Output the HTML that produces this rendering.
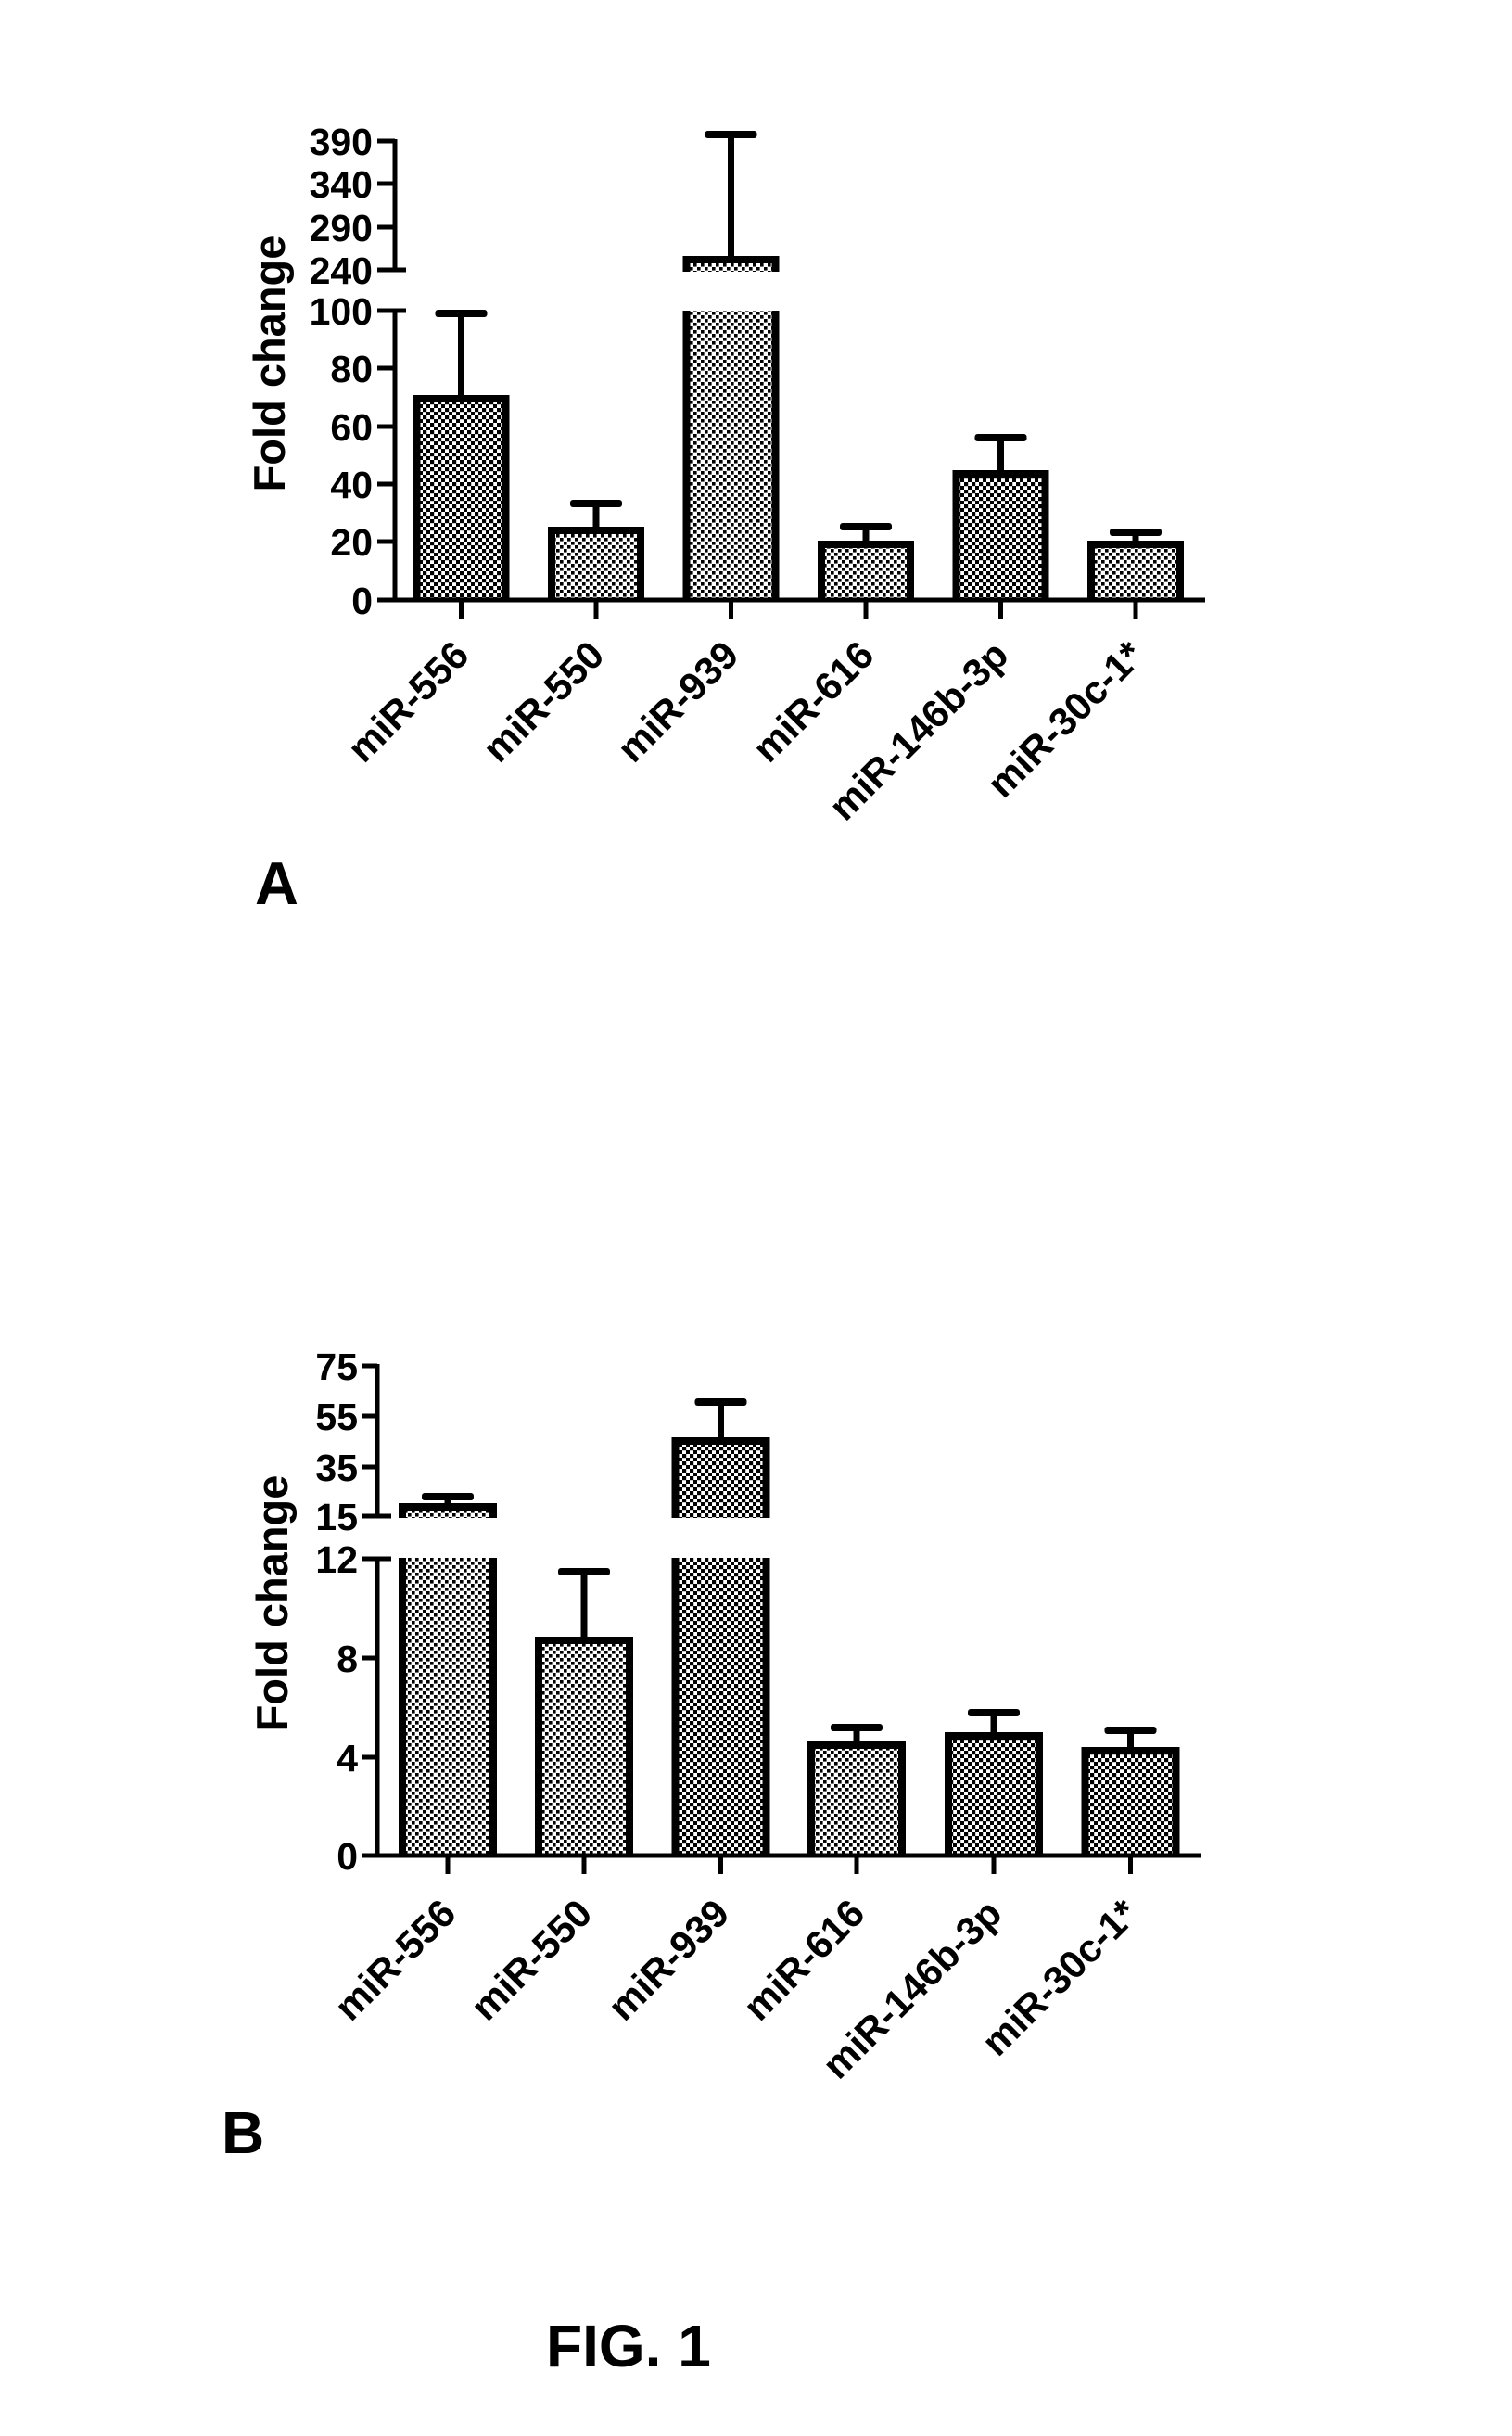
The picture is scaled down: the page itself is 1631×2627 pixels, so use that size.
<!DOCTYPE html>
<html>
<head>
<meta charset="utf-8">
<style>
  html, body { margin:0; padding:0; background:#fff; }
  svg { display:block; }
  text { font-family: "Liberation Sans", Arial, sans-serif; font-weight: bold; fill:#000; }
</style>
</head>
<body>
<svg width="1631" height="2627" viewBox="0 0 1631 2627" xmlns="http://www.w3.org/2000/svg">
  <defs>
    <pattern id="pl" width="8" height="8" patternUnits="userSpaceOnUse">
      <rect width="8" height="8" fill="#fff"/>
      <rect x="0" y="0" width="3.6" height="3.6" fill="#000"/>
      <rect x="4" y="4" width="3.6" height="3.6" fill="#000"/>
    </pattern>
    <pattern id="pd" width="8" height="8" patternUnits="userSpaceOnUse">
      <rect width="8" height="8" fill="#fff"/>
      <rect x="0" y="0" width="4.2" height="4.2" fill="#000"/>
      <rect x="4" y="4" width="4.2" height="4.2" fill="#000"/>
    </pattern>
  </defs>
  <rect width="1631" height="2627" fill="#fff"/>

  <!-- ================= CHART A ================= -->
  <!-- y axis label -->
  <text x="307" y="392" font-size="47" text-anchor="middle" transform="rotate(-90 307 392)">Fold change</text>

  <!-- bars A -->
  <!-- bar1 -->
  <rect x="445.5" y="426" width="104" height="221" fill="#000"/>
  <rect x="453.5" y="434" width="88" height="213" fill="url(#pd)"/>
  <!-- bar2 -->
  <rect x="591" y="568" width="104" height="79" fill="#000"/>
  <rect x="599" y="576" width="88" height="71" fill="url(#pl)"/>
  <!-- bar3 broken -->
  <rect x="736.5" y="276" width="104" height="17" fill="#000"/>
  <rect x="744.5" y="284" width="88" height="9" fill="url(#pl)"/>
  <rect x="736.5" y="335" width="104" height="312" fill="#000"/>
  <rect x="744.5" y="335" width="88" height="312" fill="url(#pl)"/>
  <!-- bar4 -->
  <rect x="882" y="583" width="104" height="64" fill="#000"/>
  <rect x="890" y="591" width="88" height="56" fill="url(#pl)"/>
  <!-- bar5 -->
  <rect x="1027.5" y="507" width="104" height="140" fill="#000"/>
  <rect x="1035.5" y="515" width="88" height="132" fill="url(#pd)"/>
  <!-- bar6 -->
  <rect x="1173" y="583" width="104" height="64" fill="#000"/>
  <rect x="1181" y="591" width="88" height="56" fill="url(#pl)"/>

  <!-- error bars A -->
  <rect x="494" y="338" width="7" height="90" fill="#000"/>
  <rect x="469.5" y="334" width="56" height="8" rx="3" fill="#000"/>
  <rect x="639.5" y="543" width="7" height="27" fill="#000"/>
  <rect x="615" y="539" width="56" height="8" rx="3" fill="#000"/>
  <rect x="785" y="145" width="7" height="133" fill="#000"/>
  <rect x="760.5" y="141" width="56" height="8" rx="3" fill="#000"/>
  <rect x="930.5" y="568" width="7" height="17" fill="#000"/>
  <rect x="906" y="564" width="56" height="8" rx="3" fill="#000"/>
  <rect x="1076" y="472" width="7" height="37" fill="#000"/>
  <rect x="1051.5" y="468" width="56" height="8" rx="3" fill="#000"/>
  <rect x="1221.5" y="574" width="7" height="11" fill="#000"/>
  <rect x="1197" y="570" width="56" height="8" rx="3" fill="#000"/>

  <!-- axes A -->
  <rect x="423.5" y="150" width="5" height="143.5" fill="#000"/>
  <rect x="423.5" y="333" width="5" height="316.5" fill="#000"/>
  <rect x="407" y="644.5" width="893" height="5" fill="#000"/>
  <!-- y ticks A -->
  <rect x="407" y="149.5" width="19" height="5" fill="#000"/>
  <rect x="407" y="195.5" width="19" height="5" fill="#000"/>
  <rect x="407" y="242.5" width="19" height="5" fill="#000"/>
  <rect x="407" y="288.5" width="31" height="5" fill="#000"/>
  <rect x="407" y="332.5" width="31" height="5" fill="#000"/>
  <rect x="407" y="394.5" width="19" height="5" fill="#000"/>
  <rect x="407" y="457.5" width="19" height="5" fill="#000"/>
  <rect x="407" y="519.5" width="19" height="5" fill="#000"/>
  <rect x="407" y="581.5" width="19" height="5" fill="#000"/>
  <!-- x ticks A -->
  <rect x="495" y="647" width="5" height="20" fill="#000"/>
  <rect x="640.5" y="647" width="5" height="20" fill="#000"/>
  <rect x="786" y="647" width="5" height="20" fill="#000"/>
  <rect x="931.5" y="647" width="5" height="20" fill="#000"/>
  <rect x="1077" y="647" width="5" height="20" fill="#000"/>
  <rect x="1222.5" y="647" width="5" height="20" fill="#000"/>

  <!-- y tick labels A -->
  <g font-size="41" text-anchor="end">
    <text x="402" y="167">390</text>
    <text x="402" y="213">340</text>
    <text x="402" y="260">290</text>
    <text x="402" y="306">240</text>
    <text x="402" y="350">100</text>
    <text x="402" y="412">80</text>
    <text x="402" y="475">60</text>
    <text x="402" y="537">40</text>
    <text x="402" y="599">20</text>
    <text x="402" y="662">0</text>
  </g>

  <!-- x labels A -->
  <g font-size="42" text-anchor="end">
    <text x="508" y="709" transform="rotate(-45 508 709)">miR-556</text>
    <text x="654" y="709" transform="rotate(-45 654 709)">miR-550</text>
    <text x="799" y="709" transform="rotate(-45 799 709)">miR-939</text>
    <text x="945" y="709" transform="rotate(-45 945 709)">miR-616</text>
    <text x="1090" y="709" transform="rotate(-45 1090 709)">miR-146b-3p</text>
    <text x="1236" y="709" transform="rotate(-45 1236 709)">miR-30c-1*</text>
  </g>

  <text x="275" y="975" font-size="65">A</text>

  <!-- ================= CHART B ================= -->
  <text x="310" y="1729" font-size="47" text-anchor="middle" transform="rotate(-90 310 1729)">Fold change</text>

  <!-- bars B -->
  <!-- bar1 broken -->
  <rect x="430" y="1621" width="106" height="16" fill="#000"/>
  <rect x="438" y="1629" width="90" height="8" fill="url(#pl)"/>
  <rect x="430" y="1680" width="106" height="321" fill="#000"/>
  <rect x="438" y="1680" width="90" height="321" fill="url(#pl)"/>
  <!-- bar2 -->
  <rect x="577" y="1765" width="106" height="236" fill="#000"/>
  <rect x="585" y="1773" width="90" height="228" fill="url(#pl)"/>
  <!-- bar3 broken -->
  <rect x="724.5" y="1550" width="106" height="87" fill="#000"/>
  <rect x="732.5" y="1558" width="90" height="79" fill="url(#pd)"/>
  <rect x="724.5" y="1680" width="106" height="321" fill="#000"/>
  <rect x="732.5" y="1680" width="90" height="321" fill="url(#pd)"/>
  <!-- bar4 -->
  <rect x="871" y="1878" width="106" height="123" fill="#000"/>
  <rect x="879" y="1886" width="90" height="115" fill="url(#pl)"/>
  <!-- bar5 -->
  <rect x="1019" y="1868" width="106" height="133" fill="#000"/>
  <rect x="1027" y="1876" width="90" height="125" fill="url(#pd)"/>
  <!-- bar6 -->
  <rect x="1166.5" y="1884" width="106" height="117" fill="#000"/>
  <rect x="1174.5" y="1892" width="90" height="109" fill="url(#pd)"/>

  <!-- error bars B -->
  <rect x="479.5" y="1614" width="7" height="9" fill="#000"/>
  <rect x="455" y="1610" width="56" height="8" rx="3" fill="#000"/>
  <rect x="626.5" y="1695" width="7" height="72" fill="#000"/>
  <rect x="602" y="1691" width="56" height="8" rx="3" fill="#000"/>
  <rect x="774" y="1512" width="7" height="40" fill="#000"/>
  <rect x="749.5" y="1508" width="56" height="8" rx="3" fill="#000"/>
  <rect x="920.5" y="1863" width="7" height="17" fill="#000"/>
  <rect x="896" y="1859" width="56" height="8" rx="3" fill="#000"/>
  <rect x="1068.5" y="1847" width="7" height="23" fill="#000"/>
  <rect x="1044" y="1843" width="56" height="8" rx="3" fill="#000"/>
  <rect x="1216" y="1866" width="7" height="20" fill="#000"/>
  <rect x="1191.5" y="1862" width="56" height="8" rx="3" fill="#000"/>

  <!-- axes B -->
  <rect x="404.5" y="1471" width="5" height="166.5" fill="#000"/>
  <rect x="404.5" y="1679" width="5" height="324.5" fill="#000"/>
  <rect x="390" y="1998.5" width="906" height="5" fill="#000"/>
  <!-- y ticks B -->
  <rect x="390" y="1470.5" width="17" height="5" fill="#000"/>
  <rect x="390" y="1524.5" width="17" height="5" fill="#000"/>
  <rect x="390" y="1579.5" width="17" height="5" fill="#000"/>
  <rect x="390" y="1632.5" width="32" height="5" fill="#000"/>
  <rect x="390" y="1678.5" width="32" height="5" fill="#000"/>
  <rect x="390" y="1785.5" width="17" height="5" fill="#000"/>
  <rect x="390" y="1892.5" width="17" height="5" fill="#000"/>
  <!-- x ticks B -->
  <rect x="480.5" y="2001" width="5" height="20" fill="#000"/>
  <rect x="627.5" y="2001" width="5" height="20" fill="#000"/>
  <rect x="775" y="2001" width="5" height="20" fill="#000"/>
  <rect x="921.5" y="2001" width="5" height="20" fill="#000"/>
  <rect x="1069.5" y="2001" width="5" height="20" fill="#000"/>
  <rect x="1217" y="2001" width="5" height="20" fill="#000"/>

  <!-- y tick labels B -->
  <g font-size="41" text-anchor="end">
    <text x="386" y="1488">75</text>
    <text x="386" y="1542">55</text>
    <text x="386" y="1597">35</text>
    <text x="386" y="1650">15</text>
    <text x="386" y="1696">12</text>
    <text x="386" y="1803">8</text>
    <text x="386" y="1910">4</text>
    <text x="386" y="2016">0</text>
  </g>

  <!-- x labels B -->
  <g font-size="42" text-anchor="end">
    <text x="494" y="2066" transform="rotate(-45 494 2066)">miR-556</text>
    <text x="641" y="2066" transform="rotate(-45 641 2066)">miR-550</text>
    <text x="789" y="2066" transform="rotate(-45 789 2066)">miR-939</text>
    <text x="935" y="2066" transform="rotate(-45 935 2066)">miR-616</text>
    <text x="1083" y="2066" transform="rotate(-45 1083 2066)">miR-146b-3p</text>
    <text x="1230" y="2066" transform="rotate(-45 1230 2066)">miR-30c-1*</text>
  </g>

  <text x="239" y="2322" font-size="64">B</text>

  <text x="589" y="2552" font-size="64">FIG. 1</text>
</svg>
</body>
</html>
